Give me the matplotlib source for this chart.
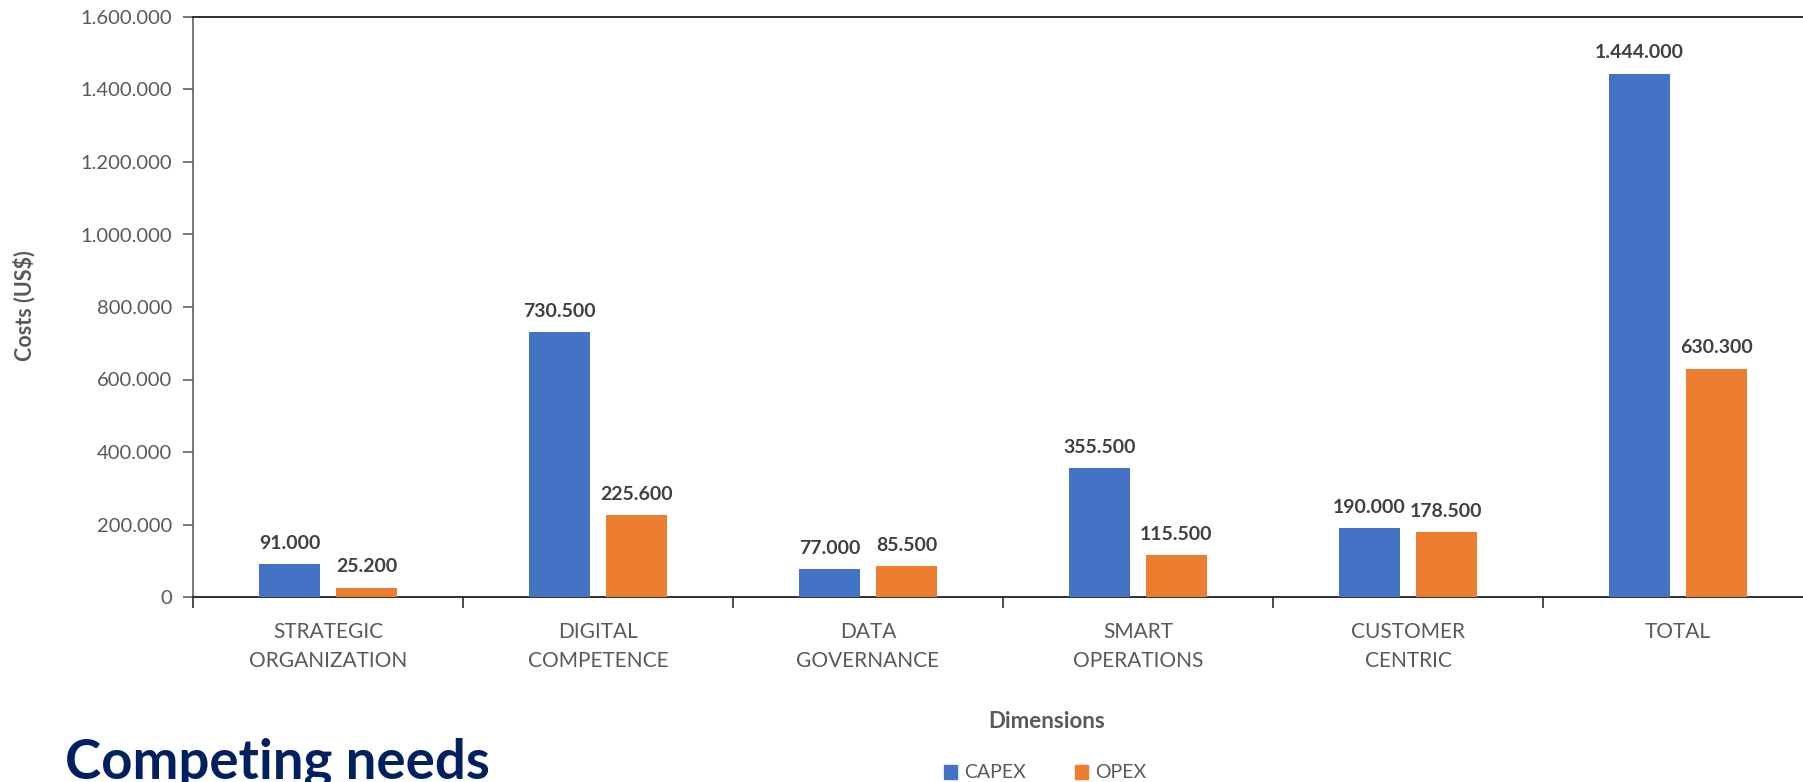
import matplotlib
matplotlib.use("Agg")
import matplotlib.pyplot as plt
import numpy as np
from matplotlib.patches import Patch

categories = ["STRATEGIC\nORGANIZATION", "DIGITAL\nCOMPETENCE", "DATA\nGOVERNANCE",
              "SMART\nOPERATIONS", "CUSTOMER\nCENTRIC", "TOTAL"]
capex = [91000, 730500, 77000, 355500, 190000, 1444000]
opex = [25200, 225600, 85500, 115500, 178500, 630300]
series_names = ["CAPEX", "OPEX"]
yticks = [0, 200000, 400000, 600000, 800000, 1000000, 1200000, 1400000, 1600000]

FONT = "Lato"
plt.rcParams["font.family"] = [FONT, "DejaVu Sans"]

BLUE = "#4472C4"
ORANGE = "#ED7D31"
GRAY = "#595959"
DARK = "#404040"

def fmt(v):
    return f"{v:,.0f}".replace(",", ".")

fig = plt.figure(figsize=(18.03, 7.82), dpi=100)
ax = fig.add_axes([193/1803, 185/782, 1620/1803, 580/782])

x = np.arange(len(categories))
w = 0.226
off = 0.1425
b1 = ax.bar(x - off, capex, w, color=BLUE, zorder=3)
b2 = ax.bar(x + off, opex, w, color=ORANGE, zorder=3)

for bars, vals in ((b1, capex), (b2, opex)):
    for r, v in zip(bars, vals):
        ax.annotate(fmt(v), (r.get_x() + r.get_width()/2, r.get_height()),
                    xytext=(0, 9), textcoords="offset points", ha="center", va="bottom",
                    fontsize=14, fontweight="bold", color=DARK)

ax.set_xlim(-0.5, len(categories) - 0.5)
ax.set_ylim(0, 1600000)
ax.set_yticks(yticks)
ax.set_yticklabels([fmt(v) for v in yticks], fontsize=14.5, color=GRAY)
ax.set_xticks(x)
ax.set_xticklabels(categories, fontsize=15, color=GRAY, linespacing=1.55)
ax.set_xticks(np.arange(-0.5, len(categories)), minor=True)
ax.tick_params(axis="x", which="major", length=0, pad=18)
ax.tick_params(axis="x", which="minor", length=8, width=1.2, color="#303030")
ax.tick_params(axis="y", length=7, width=1.2, color="#606060", pad=8)

ax.spines["right"].set_visible(False)
ax.spines["left"].set_color("#606060")
ax.spines["left"].set_linewidth(1.2)
ax.spines["bottom"].set_color("#202020")
ax.spines["bottom"].set_linewidth(1.3)
ax.spines["top"].set_color("#202020")
ax.spines["top"].set_linewidth(1.3)

fig.text(24/1803, 1 - 306/782, "Costs (US$)", rotation=90, ha="center", va="center",
         fontsize=15.5, fontweight="bold", color=GRAY)
fig.text(1047/1803, 1 - 722/782, "Dimensions", ha="center", va="center",
         fontsize=16, fontweight="bold", color=GRAY)

handles = [Patch(color=BLUE), Patch(color=ORANGE)]
fig.legend(handles, series_names, loc="center", bbox_to_anchor=(1045/1803, 1 - 773/782),
           ncol=2, frameon=False, fontsize=14, labelcolor=GRAY, handlelength=0.7,
           handleheight=0.7, handletextpad=0.35, columnspacing=2.5)

fig.text(65/1803, 1 - 778/782, "Competing needs", ha="left", va="baseline",
         fontsize=39.3, fontweight="bold", color="#002060")

fig.savefig("out.png", dpi=100)
